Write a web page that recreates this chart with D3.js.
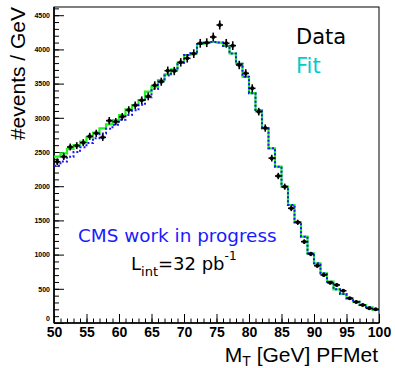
<!DOCTYPE html>
<html>
<head>
<meta charset="utf-8">
<script src="https://cdn.jsdelivr.net/npm/d3@7"></script>
<style>
  body { margin: 0; background: #fff; }
  svg { display: block; }
</style>
</head>
<body>
<div id="plot"></div>
<script>
      // bin centres of the M_T histogram, 1 GeV bins from 50 to 100
      var binCenters = d3.range(50.5, 100, 1);

      // measured events / GeV in each bin
      var dataValues = [2358, 2432, 2573, 2593, 2637, 2729, 2773, 2714, 2958, 2943,
                        3016, 3114, 3182, 3256, 3314, 3475, 3528, 3689, 3684, 3811,
                        3870, 3938, 4089, 4098, 4181, 4357, 4089, 4055, 3772, 3650,
                        3431, 3090, 2850, 2410, 2149, 1993, 1677, 1472, 1189, 1009,
                        838, 702, 589, 556, 472, 361, 307, 263, 215, 200];

      // fit template (green, solid)
      var fitValues = [2432, 2481, 2544, 2602, 2651, 2714, 2782, 2846, 2905, 2968,
                       3041, 3124, 3187, 3260, 3382, 3455, 3553, 3636, 3709, 3806,
                       3918, 3943, 4079, 4098, 4108, 4100, 4050, 3940, 3790, 3600,
                       3360, 3114, 2846, 2554, 2285, 1993, 1725, 1472, 1262, 1019,
                       873, 727, 604, 493, 424, 361, 311, 263, 229, 190];

      // second fit component (blue, dotted)
      var fit2Values = [2300, 2360, 2430, 2500, 2570, 2630, 2700, 2770, 2840, 2900,
                        2970, 3040, 3110, 3190, 3300, 3420, 3530, 3620, 3700, 3806,
                        3918, 3943, 4079, 4098, 4108, 4100, 4050, 3940, 3790, 3600,
                        3360, 3114, 2846, 2554, 2285, 1993, 1725, 1472, 1262, 1019,
                        873, 727, 604, 493, 424, 361, 311, 263, 229, 190];

      var xMajorTicks = [50, 55, 60, 65, 70, 75, 80, 85, 90, 95, 100];
      var yMajorTicks = [0, 500, 1000, 1500, 2000, 2500, 3000, 3500, 4000, 4500];

      var width = 395;
      var height = 368;
      var padLeft = 54, padRight = 379, padTop = 7, padBottom = 323;
      var helv = "'Liberation Sans', Arial, Helvetica, sans-serif";
      var dejavu = "'DejaVu Sans', sans-serif";

      var svg = d3.select('#plot').append('svg')
          .attr('width', width)
          .attr('height', height)

      var xScale = d3.scaleLinear()
          .domain([50, 100])
          .range([padLeft, padRight])

      var yScale = d3.scaleLinear()
          .domain([0, 4620])
          .range([padBottom, padTop])

      // frame
      svg.append('rect')
          .attr('x', padLeft)
          .attr('y', padTop)
          .attr('width', padRight - padLeft)
          .attr('height', padBottom - padTop)
          .attr('fill', 'none')
          .attr('stroke', '#000')
          .attr('stroke-width', 1)

      // x axis: major + minor ticks pointing inward
      var xMinor = d3.axisBottom(xScale)
          .tickValues(d3.range(50, 101, 1))
          .tickSize(-4.5)
          .tickFormat('')
      var xMajor = d3.axisBottom(xScale)
          .tickValues(xMajorTicks)
          .tickSizeInner(-9)
          .tickSizeOuter(0)
          .tickPadding(4)
          .tickFormat(d3.format('d'))

      svg.append('g')
          .attr('transform', 'translate(0,' + padBottom + ')')
          .call(xMinor)
          .call(g => g.select('.domain').remove())
      svg.append('g')
          .attr('transform', 'translate(0,' + padBottom + ')')
          .call(xMajor)
          .call(g => g.select('.domain').remove())
          .selectAll('text')
              .style('font-family', helv)
              .style('font-weight', 'bold')
              .style('font-size', '14px')
              .attr('fill', '#000')

      // y axis
      var yMinor = d3.axisLeft(yScale)
          .tickValues(d3.range(0, 4601, 100))
          .tickSize(-5)
          .tickFormat('')
      var yMajor = d3.axisLeft(yScale)
          .tickValues(yMajorTicks)
          .tickSizeInner(-10)
          .tickSizeOuter(0)
          .tickPadding(4)
          .tickFormat(d3.format('d'))

      svg.append('g')
          .attr('transform', 'translate(' + padLeft + ',0)')
          .call(yMinor)
          .call(g => g.select('.domain').remove())
      svg.append('g')
          .attr('transform', 'translate(' + padLeft + ',0)')
          .call(yMajor)
          .call(g => g.select('.domain').remove())
          .selectAll('text')
              .style('font-family', helv)
              .style('font-weight', 'bold')
              .style('font-size', '7px')
              .attr('fill', '#000')
              // ROOT lifts the zero label off the x axis labels
              .attr('dy', d => d === 0 ? '-0.3em' : '0.32em')

      // thicker left / bottom axis lines
      svg.append('line')
          .attr('x1', padLeft).attr('x2', padLeft)
          .attr('y1', padTop).attr('y2', padBottom)
          .attr('stroke', '#000').attr('stroke-width', 1.6)
      svg.append('line')
          .attr('x1', padLeft).attr('x2', padRight)
          .attr('y1', padBottom).attr('y2', padBottom)
          .attr('stroke', '#000').attr('stroke-width', 1.6)

      // step histogram lines for the fits
      function stepPoints(values) {
        var pts = values.map((v, i) => [binCenters[i] - 0.5, v]);
        pts.push([100, values[values.length - 1]]);
        return pts;
      }
      var stepLine = d3.line()
          .x(d => xScale(d[0]))
          .y(d => yScale(d[1]))
          .curve(d3.curveStepAfter)

      svg.append('path')
          .attr('d', stepLine(stepPoints(fitValues)))
          .attr('fill', 'none')
          .attr('stroke', '#22f022')
          .attr('stroke-width', 2.2)

      svg.append('path')
          .attr('d', stepLine(stepPoints(fit2Values)))
          .attr('fill', 'none')
          .attr('stroke', '#1a1aff')
          .attr('stroke-width', 2)
          .attr('stroke-dasharray', '2,2')

      // data points with error bars
      var pts = svg.append('g')
          .selectAll('g')
          .data(dataValues)
          .enter()
          .append('g')

      pts.append('line')
          .attr('x1', (d, i) => xScale(binCenters[i] - 0.5))
          .attr('x2', (d, i) => xScale(binCenters[i] + 0.5))
          .attr('y1', d => yScale(d))
          .attr('y2', d => yScale(d))
          .attr('stroke', '#000')
          .attr('stroke-width', 1.6)
      pts.append('line')
          .attr('x1', (d, i) => xScale(binCenters[i]))
          .attr('x2', (d, i) => xScale(binCenters[i]))
          .attr('y1', d => yScale(d + Math.sqrt(d)))
          .attr('y2', d => yScale(d - Math.sqrt(d)))
          .attr('stroke', '#000')
          .attr('stroke-width', 1.6)
      pts.append('circle')
          .attr('cx', (d, i) => xScale(binCenters[i]))
          .attr('cy', d => yScale(d))
          .attr('r', 2)
          .attr('fill', '#000')

      // axis titles
      var xTitle = svg.append('text')
          .attr('x', 378)
          .attr('y', 362)
          .attr('text-anchor', 'end')
          .style('font-family', helv)
          .style('font-size', '21px')
      xTitle.append('tspan').text('M')
      xTitle.append('tspan').attr('dy', 4).style('font-size', '14px').text('T')
      xTitle.append('tspan').attr('dy', -4).text(' [GeV] PFMet')

      svg.append('text')
          .attr('transform', 'rotate(-90)')
          .attr('x', -7)
          .attr('y', 25)
          .attr('text-anchor', 'end')
          .style('font-family', helv)
          .style('font-size', '21px')
          .text('#events / GeV')

      // legend
      svg.append('text')
          .attr('x', 296)
          .attr('y', 44)
          .style('font-family', dejavu)
          .style('font-size', '21px')
          .attr('fill', '#000')
          .text('Data')
      svg.append('text')
          .attr('x', 296)
          .attr('y', 73)
          .style('font-family', dejavu)
          .style('font-size', '21px')
          .attr('fill', '#00cccc')
          .text('Fit')

      // labels
      svg.append('text')
          .attr('x', 78)
          .attr('y', 242)
          .style('font-family', dejavu)
          .style('font-size', '18.4px')
          .attr('fill', '#1a1aff')
          .text('CMS work in progress')

      var lumi = svg.append('text')
          .attr('x', 131)
          .attr('y', 270)
          .style('font-family', dejavu)
          .style('font-size', '18px')
          .attr('fill', '#000')
      lumi.append('tspan').text('L')
      lumi.append('tspan').attr('dy', 6).style('font-size', '13px').text('int')
      lumi.append('tspan').attr('dy', -6).text('=32 pb')
      lumi.append('tspan').attr('dy', -10).style('font-size', '12px').text('-1')
</script>
</body>
</html>
